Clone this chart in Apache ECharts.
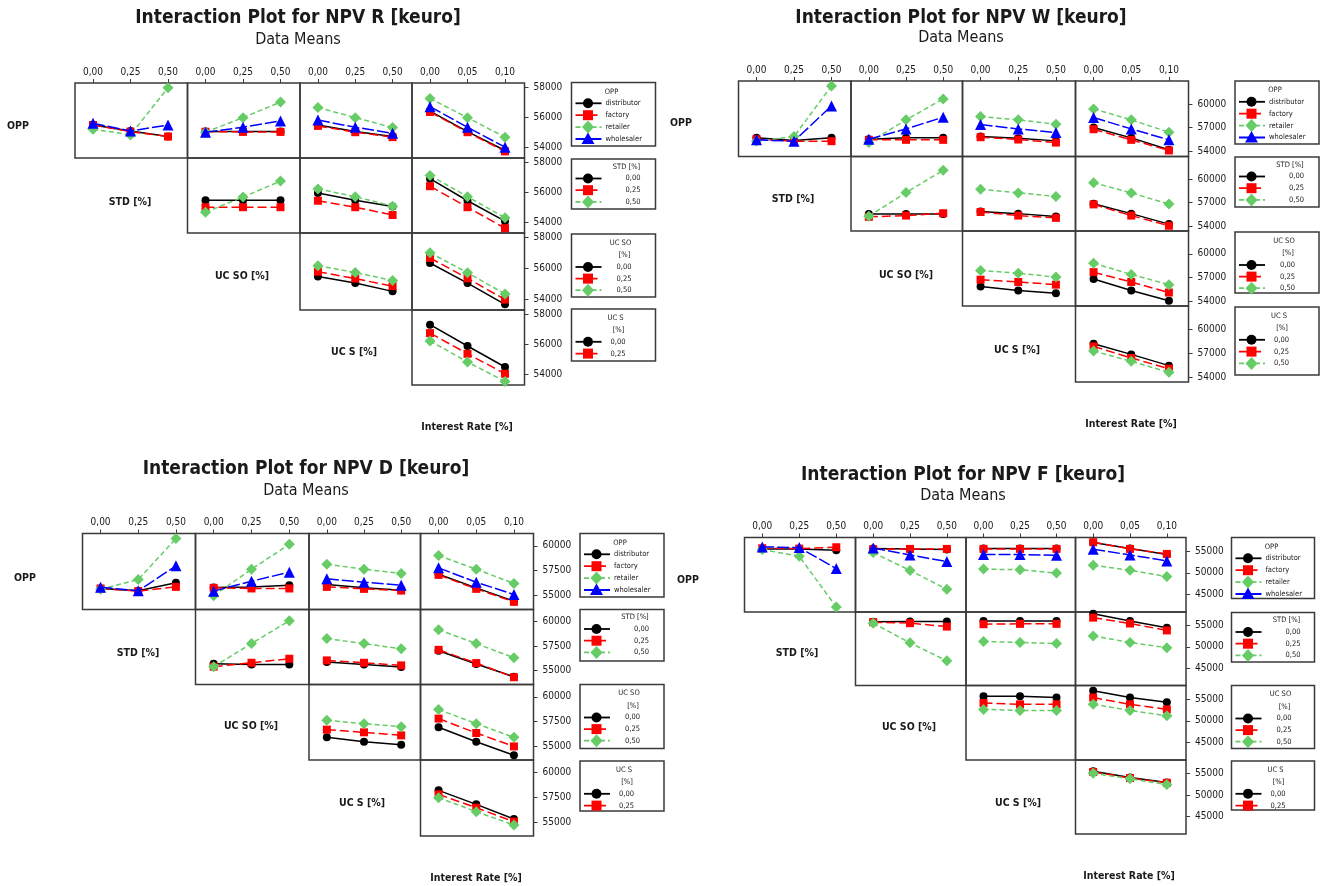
<!DOCTYPE html>
<html>
<head>
<meta charset="utf-8">
<title>Interaction Plots for NPV</title>
<script src="https://cdn.jsdelivr.net/npm/echarts@6/dist/echarts.min.js"></script>
<style>
  html, body { margin: 0; padding: 0; background: #ffffff; }
  #chart { width: 1328px; height: 886px; }
</style>
</head>
<body>
<div id="chart"></div>
<script>
// ---- factors and levels ----
const factorNames = ['OPP', 'STD [%]', 'UC SO [%]', 'UC S [%]', 'Interest Rate [%]'];
const oppLevels = ['distributor', 'factory', 'retailer', 'wholesaler'];
const pctLevels = ['0,00', '0,25', '0,50'];
const ucsShortLevels = ['0,00', '0,25'];
const pctTicks = [0, 0.25, 0.5];
const rateTicks = [0, 0.05, 0.1];

// ---- NPV R [keuro] : means; [column][line level][x level] ----
const npvR_yTicks = [54000, 56000, 58000];
const npvR_byOPP = [
  [[55500, 55100, 54730], [55500, 55060, 54730], [55220, 54840, 57980], [55610, 55100, 55500]],
  [[55060, 55060, 55060], [55050, 55040, 55040], [55020, 55990, 57030], [55020, 55350, 55770]],
  [[55500, 55060, 54730], [55440, 55020, 54690], [56670, 55990, 55330], [55830, 55350, 54950]],
  [[56430, 55060, 53800], [56370, 55020, 53740], [57270, 55990, 54690], [56720, 55350, 54020]]
];
const npvR_bySTD = [
  [[55490, 55490, 55490], [55020, 55020, 55020], [54680, 55700, 56760]],
  [[55970, 55490, 55060], [55450, 55020, 54500], [56240, 55720, 55090]],
  [[56920, 55450, 54090], [56420, 55020, 53620], [57140, 55720, 54320]]
];
const npvR_byUCSO = [
  [[55480, 55050, 54510], [55790, 55340, 54850], [56170, 55740, 55210]],
  [[56350, 55050, 53670], [56680, 55360, 53980], [57020, 55720, 54340]]
];
const npvR_byUCS = [
  [[57320, 55900, 54500], [56760, 55380, 54050], [56240, 54840, 53530]]
];

// ---- NPV W [keuro] ----
const npvW_yTicks = [54000, 57000, 60000];
const npvW_byOPP = [
  [[55720, 55390, 55720], [55550, 55300, 55300], [55300, 55890, 62270], [55470, 55300, 59750]],
  [[55550, 55720, 55720], [55470, 55470, 55470], [55130, 57990, 60630], [55550, 56850, 58320]],
  [[55890, 55680, 55340], [55800, 55510, 55130], [58410, 57990, 57440], [57400, 56850, 56390]],
  [[57020, 55720, 54210], [56810, 55470, 54130], [59370, 57990, 56430], [58280, 56850, 55470]]
];
const npvW_bySTD = [
  [[55550, 55550, 55550], [55180, 55340, 55640], [55260, 58280, 61130]],
  [[55850, 55590, 55220], [55800, 55340, 55050], [58700, 58240, 57780]],
  [[56850, 55590, 54250], [56770, 55340, 54040], [59540, 58240, 56810]]
];
const npvW_byUCSO = [
  [[55830, 55330, 55000], [56710, 56420, 56080], [57880, 57540, 57040]],
  [[56790, 55330, 54040], [57670, 56420, 55080], [58790, 57380, 56080]]
];
const npvW_byUCS = [
  [[58170, 56830, 55420], [57830, 56380, 55040], [57250, 55960, 54580]]
];

// ---- NPV D [keuro] ----
const npvD_yTicks = [55000, 57500, 60000];
const npvD_byOPP = [
  [[55710, 55470, 56280], [55710, 55440, 55870], [55640, 56610, 60740], [55840, 55470, 57990]],
  [[55810, 55870, 56040], [55770, 55710, 55710], [54970, 57650, 60170], [55440, 56440, 57350]],
  [[56110, 55770, 55540], [55870, 55670, 55500], [58150, 57650, 57220], [56680, 56340, 56040]],
  [[57150, 55770, 54430], [57080, 55670, 54360], [59030, 57650, 56210], [57790, 56340, 55100]]
];
const npvD_bySTD = [
  [[55710, 55640, 55640], [55410, 55810, 56220], [55410, 57770, 60100]],
  [[55880, 55640, 55370], [56050, 55810, 55540], [58280, 57770, 57230]],
  [[57030, 55680, 54390], [57130, 55780, 54330], [59190, 57770, 56320]]
];
const npvD_byUCSO = [
  [[55890, 55440, 55140], [56670, 56400, 56090], [57620, 57280, 56970]],
  [[56910, 55440, 54080], [57790, 56330, 54970], [58710, 57280, 55890]]
];
const npvD_byUCS = [
  [[58190, 56780, 55300], [57790, 56440, 55030], [57450, 56040, 54700]]
];

// ---- NPV F [keuro] ----
const npvF_yTicks = [45000, 50000, 55000];
const npvF_byOPP = [
  [[55460, 55460, 55150], [55610, 55530, 55840], [55310, 53780, 42180], [55920, 55760, 50950]],
  [[55530, 55460, 55310], [55380, 55460, 55460], [54620, 50530, 46220], [55690, 54080, 52560]],
  [[55530, 55530, 55530], [55460, 55460, 55460], [50840, 50690, 49920], [54160, 54160, 54010]],
  [[56910, 55530, 54160], [56990, 55460, 54310], [51720, 50570, 49120], [55380, 54080, 52710]]
];
const npvF_bySTD = [
  [[55800, 55880, 55880], [55720, 55480, 54680], [55480, 50920, 46760]],
  [[55960, 55960, 55960], [55240, 55320, 55320], [51240, 51000, 50760]],
  [[57640, 55960, 54440], [56760, 55400, 53800], [52520, 51000, 49800]]
];
const npvF_byUCSO = [
  [[55620, 55620, 55310], [54070, 53760, 53760], [52600, 52370, 52370]],
  [[56860, 55310, 54230], [55310, 53760, 52600], [53760, 52370, 51130]]
];
const npvF_byUCS = [
  [[55470, 54060, 52890], [55310, 53910, 52810], [55000, 53750, 52420]]
];

// ---- styling ----
const FONT = "'DejaVu Sans Condensed', 'Liberation Sans Narrow', 'DejaVu Sans', sans-serif";
const INK = '#1a1a1a';
const FRAME = '#3a3a3a';
const levelStyles = [
  { color: '#000000', symbol: 'circle',   size: 8,  dash: 'solid',  width: 1.5 },
  { color: '#ff0000', symbol: 'rect',     size: 8,  dash: [9, 4],   width: 1.5 },
  { color: '#66cc66', symbol: 'diamond',  size: 11, dash: [5, 3],   width: 1.5 },
  { color: '#0000ff', symbol: 'triangle', size: 11, dash: [12, 3],  width: 1.5 }
];
const pctRange = [-0.12, 0.63];
const rateRange = [-0.024, 0.126];

const quadrants = [
  {
    title: 'Interaction Plot for NPV R [keuro]', yTicks: npvR_yTicks,
    rows: [npvR_byOPP, npvR_bySTD, npvR_byUCSO, npvR_byUCS], ucsLegend: ucsShortLevels,
    colX: [75, 187.5, 300, 412, 524.5], rowY: [83, 158, 233, 310, 385], yRange: [53300, 58300],
    titleX: 298, titleY: 18, subY: 39.5,
    rowLabels: [[18, 126], [130, 202], [242, 276], [354, 352], [467, 427]],
    legendX: 571.5, legendW: 84, legendTop: [82.5, 159, 234, 309], legendH: [63.5, 50, 63, 52]
  },
  {
    title: 'Interaction Plot for NPV W [keuro]', yTicks: npvW_yTicks,
    rows: [npvW_byOPP, npvW_bySTD, npvW_byUCSO, npvW_byUCS], ucsLegend: pctLevels,
    colX: [738.5, 851, 962.5, 1075.5, 1188.5], rowY: [81, 156.5, 231, 306, 382], yRange: [53370, 62890],
    titleX: 961, titleY: 18, subY: 37.5,
    rowLabels: [[681, 123], [793, 199], [906, 275], [1017, 350], [1131, 424]],
    legendX: 1235, legendW: 84, legendTop: [81, 157, 232, 307], legendH: [63, 50, 61, 68]
  },
  {
    title: 'Interaction Plot for NPV D [keuro]', yTicks: npvD_yTicks,
    rows: [npvD_byOPP, npvD_bySTD, npvD_byUCSO, npvD_byUCS], ucsLegend: ucsShortLevels,
    colX: [82.5, 195.5, 309, 420.5, 533.5], rowY: [533.5, 609.5, 684.5, 760, 836], yRange: [53590, 61250],
    titleX: 306, titleY: 469, subY: 491,
    rowLabels: [[25, 578], [138, 653], [251, 726], [362, 803], [476, 878]],
    legendX: 580, legendW: 84, legendTop: [533.5, 609.5, 684.5, 761], legendH: [63.5, 51.5, 64, 50]
  },
  {
    title: 'Interaction Plot for NPV F [keuro]', yTicks: npvF_yTicks,
    rows: [npvF_byOPP, npvF_bySTD, npvF_byUCSO, npvF_byUCS], ucsLegend: ucsShortLevels,
    colX: [744.5, 855.5, 966, 1075.5, 1186], rowY: [537.5, 612, 685.5, 760, 834], yRange: [41020, 58070],
    titleX: 963, titleY: 475.5, subY: 496,
    rowLabels: [[688, 580], [797, 653], [909, 727], [1018, 803], [1129, 876]],
    legendX: 1231.5, legendW: 83, legendTop: [537.5, 612.5, 685.5, 761], legendH: [61, 49.5, 63, 49]
  }
];

// legend layout per row (offsets inside the box)
const legendSpecs = [
  { titles: [['OPP', 40, 9.5]], first: 20.8, step: 11.9, labelX: 34, align: 'left' },
  { titles: [['STD [%]', 55, 8]], first: 19.5, step: 11.7, labelX: 69, align: 'right' },
  { titles: [['UC SO', 49, 9], ['[%]', 53, 21.5]], first: 33, step: 11.6, labelX: 60, align: 'right' },
  { titles: [['UC S', 44, 9.3], ['[%]', 47, 21]], first: 32.8, step: 11.8, labelX: 54, align: 'right' }
];

const fmtPct = v => v.toFixed(2).replace('.', ',');

const grids = [], xAxes = [], yAxes = [], series = [], graphics = [];

function markerGraphic(kind, cx, cy, color) {
  if (kind === 'circle') return { type: 'circle', shape: { cx, cy, r: 5 }, style: { fill: color } };
  if (kind === 'rect') return { type: 'rect', shape: { x: cx - 5, y: cy - 5, width: 10, height: 10 }, style: { fill: color } };
  if (kind === 'diamond') return { type: 'polygon', shape: { points: [[cx, cy - 6.5], [cx + 6, cy], [cx, cy + 6.5], [cx - 6, cy]] }, style: { fill: color } };
  return { type: 'polygon', shape: { points: [[cx, cy - 6.5], [cx + 6.5, cy + 5], [cx - 6.5, cy + 5]] }, style: { fill: color } };
}

function text(str, x, y, font, align) {
  return {
    type: 'text', x, y, silent: true,
    style: { text: str, font, fill: INK, align: align || 'center', verticalAlign: 'middle' }
  };
}

let gi = 0;
quadrants.forEach(q => {
  // headings
  graphics.push(text(q.title, q.titleX, q.titleY, `bold 19px ${FONT}`));
  graphics.push(text('Data Means', q.titleX, q.subY, `16px ${FONT}`));

  // factor names on the diagonal
  factorNames.forEach((name, i) => {
    graphics.push(text(name, q.rowLabels[i][0], q.rowLabels[i][1], `bold 10.5px ${FONT}`));
  });

  q.rows.forEach((rowData, r) => {
    rowData.forEach((colData, k) => {
      const c = r + k;
      const isRate = c === 3;
      const xt = isRate ? rateTicks : pctTicks;
      const xr = isRate ? rateRange : pctRange;
      const topRow = r === 0;
      const lastCol = c === 3;

      grids.push({
        left: q.colX[c], top: q.rowY[r],
        width: q.colX[c + 1] - q.colX[c], height: q.rowY[r + 1] - q.rowY[r],
        show: true, borderColor: FRAME, borderWidth: 1.5, backgroundColor: 'transparent'
      });

      xAxes.push({
        type: 'value', gridIndex: gi, min: xr[0], max: xr[1], position: 'top',
        axisLine: { show: false, onZero: false }, splitLine: { show: false },
        axisTick: { show: topRow, inside: false, length: 4, customValues: xt, lineStyle: { color: FRAME, width: 1 } },
        axisLabel: {
          show: topRow, customValues: xt, margin: 6, fontSize: 10, fontFamily: FONT, color: INK,
          formatter: v => fmtPct(v)
        }
      });

      yAxes.push({
        type: 'value', gridIndex: gi, min: q.yRange[0], max: q.yRange[1], position: 'right',
        show: lastCol,
        axisLine: { show: false, onZero: false }, splitLine: { show: false },
        axisTick: { show: lastCol, inside: false, length: 4, customValues: q.yTicks, lineStyle: { color: FRAME, width: 1 } },
        axisLabel: {
          show: lastCol, customValues: q.yTicks, margin: 9, fontSize: 10, fontFamily: FONT, color: INK,
          formatter: v => String(v)
        }
      });

      colData.forEach((vals, lv) => {
        const st = levelStyles[lv];
        series.push({
          type: 'line', xAxisIndex: gi, yAxisIndex: gi,
          data: vals.map((v, i) => [xt[i], v]),
          symbol: st.symbol, symbolSize: st.size, showSymbol: true,
          lineStyle: { color: st.color, width: st.width, type: st.dash },
          itemStyle: { color: st.color, borderWidth: 0 },
          silent: true, animation: false, z: 3 + lv
        });
      });
      gi++;
    });

    // legend box for this row
    const spec = legendSpecs[r];
    const levels = r === 0 ? oppLevels : (r === 3 ? q.ucsLegend : pctLevels);
    const lx = q.legendX, ly = q.legendTop[r];
    graphics.push({
      type: 'rect', silent: true,
      shape: { x: lx, y: ly, width: q.legendW, height: q.legendH[r] },
      style: { fill: '#ffffff', stroke: FRAME, lineWidth: 1.5 }
    });
    spec.titles.forEach(t => graphics.push(text(t[0], lx + t[1], ly + t[2], `7.5px ${FONT}`)));
    levels.forEach((lab, i) => {
      const st = levelStyles[i];
      const yy = ly + spec.first + i * spec.step;
      graphics.push({
        type: 'line', silent: true,
        shape: { x1: lx + 4, y1: yy, x2: lx + 30, y2: yy },
        style: { stroke: st.color, lineWidth: 1.8, lineDash: st.dash === 'solid' ? null : st.dash }
      });
      graphics.push(Object.assign(markerGraphic(st.symbol, lx + 16.5, yy, st.color), { silent: true }));
      graphics.push(text(lab, lx + spec.labelX, yy, `7.5px ${FONT}`, spec.align));
    });
  });
});

const chart = echarts.init(document.getElementById('chart'), null, { renderer: 'canvas' });
chart.setOption({
  animation: false,
  backgroundColor: '#ffffff',
  grid: grids,
  xAxis: xAxes,
  yAxis: yAxes,
  series: series,
  graphic: { elements: graphics }
});
</script>
</body>
</html>
